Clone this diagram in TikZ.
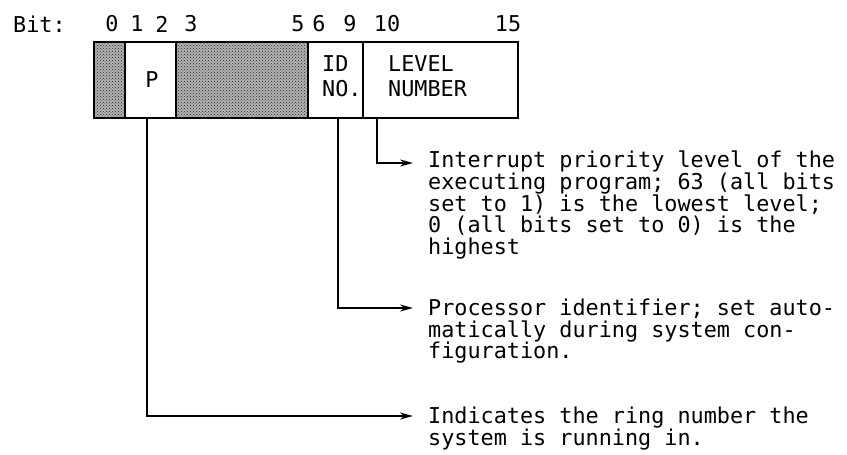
\documentclass[tikz,border=0pt]{standalone}
\usepackage{fontspec}
\setmonofont{DejaVu Sans Mono}
\usetikzlibrary{arrows.meta}
\usetikzlibrary{patterns}

\begin{document}
\begin{tikzpicture}[x=1pt, y=-1pt,
    every node/.style={font=\ttfamily\fontsize{21.8}{21.3}\selectfont, inner sep=0pt},
  field/.style={draw, line width=1.8pt, anchor=north west, minimum height=76pt},
  unused/.style={field, preaction={fill=black!30}, pattern=crosshatch dots, pattern color=black!85},
  boxtext/.style={anchor=west, align=left, font=\ttfamily\fontsize{21.8}{25}\selectfont},
  desc/.style={anchor=north west, align=left},
  wire/.style={->, line width=1.5pt},
  ]
\tikzset{>={Stealth[length=13pt, width=7pt]}}
\useasboundingbox (0,0) rectangle (847,455);

  % register fields
  \node[unused, minimum width=31pt]  (res0)  at (93,41)  {};
  \node[field,  minimum width=51pt]  (pbit)  at (124,41) {};
  \node[unused, minimum width=132pt] (res3)  at (175,41) {};
  \node[field,  minimum width=55pt]  (idno)  at (307,41) {};
  \node[field,  minimum width=155pt] (level) at (362,41) {};

  \node (plabel) at (152,80) {P};
  \node[boxtext] (idlabel)  at (322,76) {ID\\NO.};
  \node[boxtext] (levlabel) at (388,76) {LEVEL\\NUMBER};

  % bit numbers
  \node[anchor=west] (bitlabel) at (13,24) {Bit:};
  \foreach \n/\x in {0/112, 1/137, 2/162, 3/191, 5/298, 6/319, 9/350, 10/387, 15/508}
    \node (b\n) at (\x,24) {\n};

  % descriptions
  \node[desc] (levdesc) at (428,151) {Interrupt priority level of the\\executing program; 63 (all bits\\set to 1) is the lowest level;\\0 (all bits set to 0) is the\\highest};
  \node[desc] (iddesc) at (428,299) {Processor identifier; set auto-\\matically during system con-\\figuration.};
  \node[desc] (pdesc) at (428,407) {Indicates the ring number the\\system is running in.};

  \coordinate (levtip) at (413,163);
  \coordinate (idtip)  at (413,308);
  \coordinate (ptip)   at (413,416);

  \draw[wire] ([xshift=15pt]level.south west) |- (levtip);
  \draw[wire] ([xshift=31pt]idno.south west) |- (idtip);
  \draw[wire] ([xshift=23pt]pbit.south west) |- (ptip);

  \end{tikzpicture}
\end{document}
